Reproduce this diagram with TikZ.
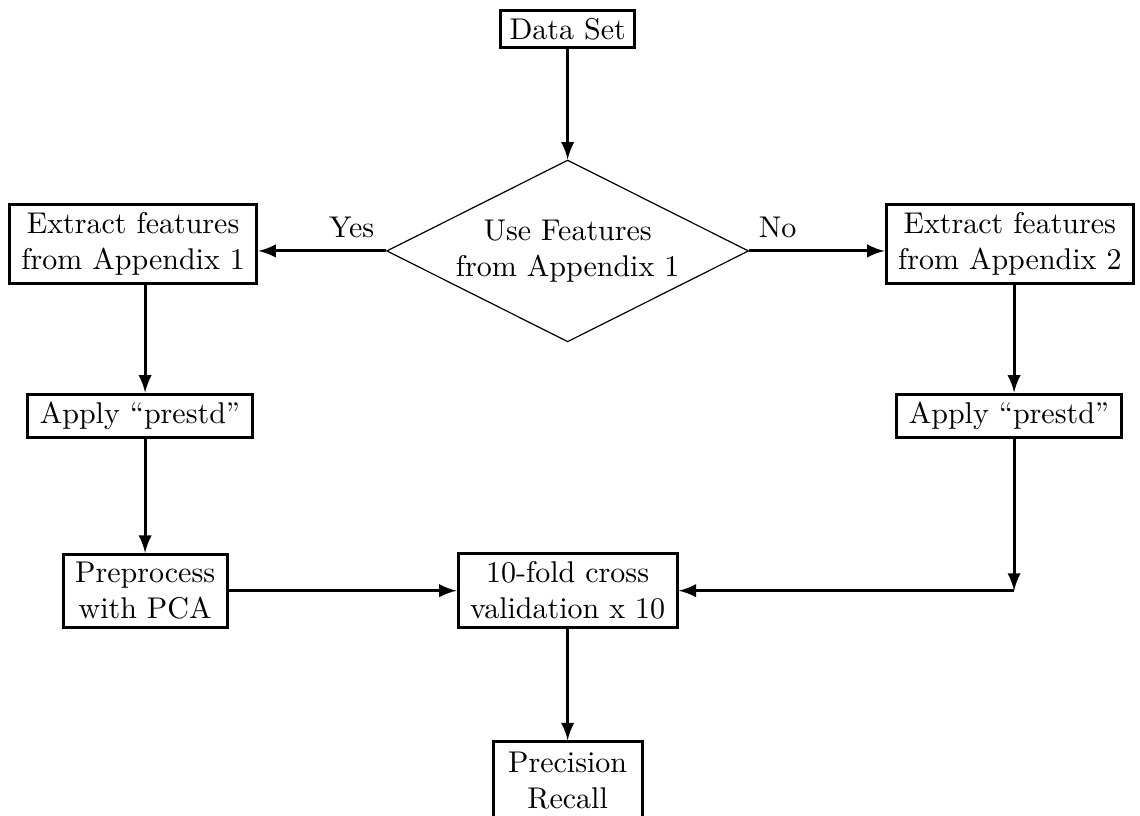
\documentclass[tikz,border=0pt]{standalone}
\usetikzlibrary{shapes.geometric}
\tikzset{
  box/.style={draw, line width=1pt, align=center, inner xsep=4pt, inner ysep=2.6pt},
  decision/.style={draw, diamond, aspect=2, inner sep=0pt, minimum width=4.24cm, minimum height=2.13cm, align=center},
  flow/.style={line width=1pt, -latex}
}
\begin{document}
\begin{tikzpicture}
    \useasboundingbox (0,0) rectangle (13.355,-9.559);
    \node[box, inner xsep=3pt] (data) at (6.65,-.34) {Data Set};
    \node[decision] (dec) at (6.65,-2.94) {Use Features\\from Appendix 1};
    \node[box] (ext1) at (1.56,-2.86) {Extract features\\from Appendix 1};
    \node[box] (ext2) at (11.83,-2.86) {Extract features\\from Appendix 2};
    \node[box] (pre1) at (1.64,-4.87) {Apply ``prestd''};
    \node[box] (pre2) at (11.82,-4.87) {Apply ``prestd''};
    \node[box] (pca) at (1.70,-6.92) {Preprocess\\with PCA};
    \node[box] (cv) at (6.65,-6.92) {10-fold cross\\validation x 10};
    \node[box, inner xsep=5pt, minimum height=.92cm] (prec) at (6.65,-9.15) {Precision\\Recall};
    \coordinate (crn) at (11.88,-6.92);
    \node (yes) at (4.12,-2.66) {Yes};
    \node (no) at (9.11,-2.66) {No};
    \draw[flow] (data) -- (dec.north);
    \draw[flow] (dec.west) -- (dec.west -| ext1.east);
    \draw[flow] (dec.east) -- (dec.east -| ext2.west);
    \draw[flow] (ext1.south -| pca) -- (pre1.north -| pca);
    \draw[flow] (pre1.south -| pca) -- (pca);
    \draw[flow] (ext2.south -| crn) -- (pre2.north -| crn);
    \draw[flow] (pre2.south -| crn) -- (crn);
    \draw[flow] (pca) -- (cv);
    \draw[flow] (crn) -- (cv);
    \draw[flow] (cv) -- (prec);
\end{tikzpicture}
\end{document}
